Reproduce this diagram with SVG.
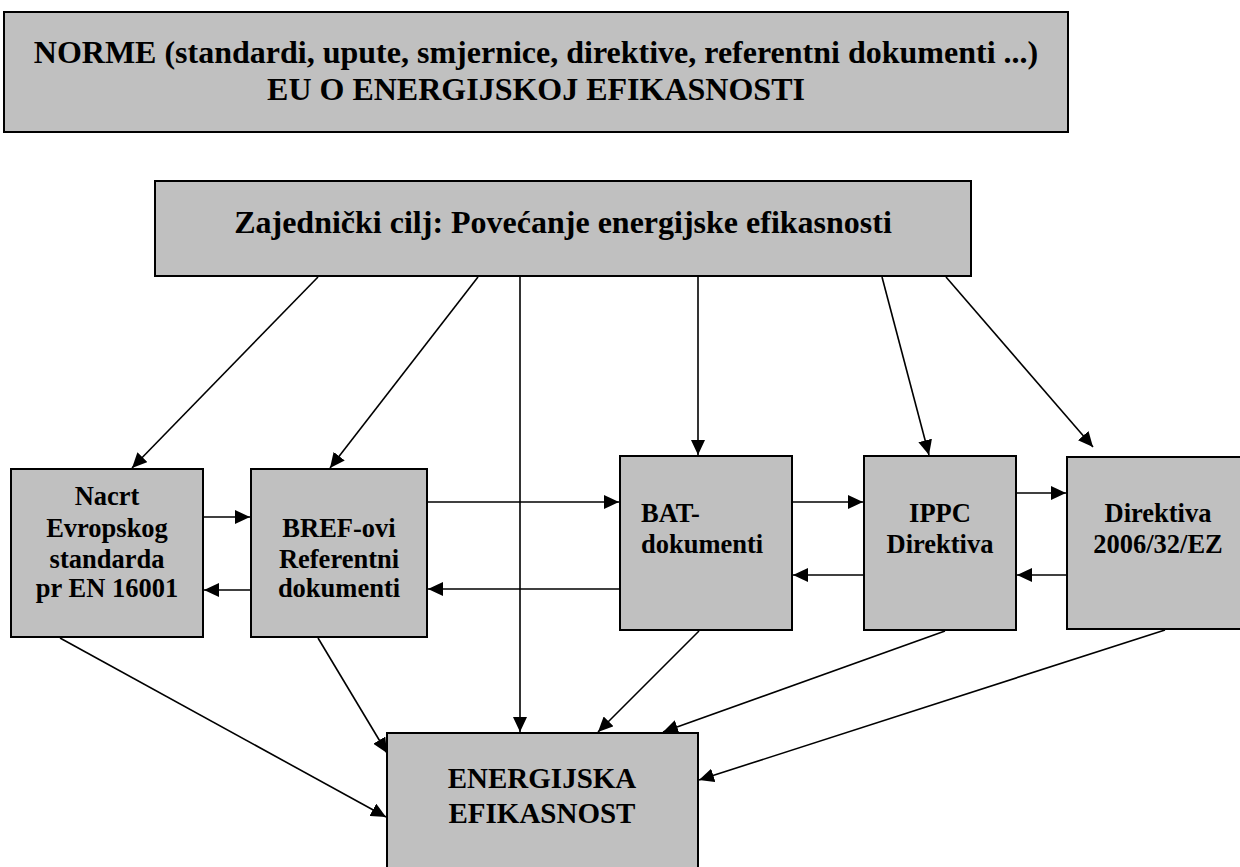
<svg xmlns="http://www.w3.org/2000/svg" width="1240" height="867" viewBox="0 0 1240 867">
<style>
.box{fill:#c0c0c0;stroke:#000;stroke-width:2}
.t{font-family:"Liberation Serif","Times New Roman",serif;font-weight:bold;fill:#000}
.big{font-size:32px}
.mid{font-size:26.5px}
.en{font-size:29px}
.c{text-anchor:middle}
.ln{stroke:#000;stroke-width:1.6;fill:none;marker-end:url(#ah)}
</style>
<defs>
<marker id="ah" markerUnits="userSpaceOnUse" markerWidth="16" markerHeight="14" refX="15" refY="7" orient="auto">
<path d="M0,0 L15,7 L0,14 z" fill="#000"/>
</marker>
</defs>
<rect width="1240" height="867" fill="#fff"/>
<g id="header">
<rect class="box" x="4" y="12" width="1064" height="120"/>
<text class="t big c" x="536" y="63">NORME (standardi, upute, smjernice, direktive, referentni dokumenti ...)</text>
<text class="t big c" x="536" y="100">EU O ENERGIJSKOJ EFIKASNOSTI</text>
</g>
<g id="cilj">
<rect class="box" x="155" y="181" width="816" height="95"/>
<text class="t big c" x="563" y="233">Zajednički cilj: Povećanje energijske efikasnosti</text>
</g>
<g id="nacrt">
<rect class="box" x="11" y="469" width="192" height="168"/>
<text class="t mid c" x="107" y="505">Nacrt</text>
<text class="t mid c" x="107" y="537">Evropskog</text>
<text class="t mid c" x="107" y="568">standarda</text>
<text class="t mid c" x="107" y="597">pr EN 16001</text>
</g>
<g id="bref">
<rect class="box" x="251" y="469" width="176" height="168"/>
<text class="t mid c" x="339" y="537">BREF-ovi</text>
<text class="t mid c" x="339" y="568">Referentni</text>
<text class="t mid c" x="339" y="597">dokumenti</text>
</g>
<g id="bat">
<rect class="box" x="620" y="456" width="172" height="174"/>
<text class="t mid" x="641" y="522">BAT-</text>
<text class="t mid" x="641" y="553">dokumenti</text>
</g>
<g id="ippc">
<rect class="box" x="864" y="456" width="152" height="174"/>
<text class="t mid c" x="940" y="522">IPPC</text>
<text class="t mid c" x="940" y="553">Direktiva</text>
</g>
<g id="direktiva">
<rect class="box" x="1067" y="457" width="182" height="172"/>
<text class="t mid c" x="1158" y="522">Direktiva</text>
<text class="t mid c" x="1158" y="553">2006/32/EZ</text>
</g>
<g id="energija">
<rect class="box" x="387" y="733" width="311" height="140"/>
<text class="t en c" x="542" y="788">ENERGIJSKA</text>
<text class="t en c" x="542" y="823">EFIKASNOST</text>
</g>
<g id="connectors">
<line class="ln" x1="318" y1="277" x2="132" y2="468"/>
<line class="ln" x1="478" y1="277" x2="330" y2="468"/>
<line class="ln" x1="520" y1="277" x2="520" y2="732"/>
<line class="ln" x1="698" y1="277" x2="698" y2="455"/>
<line class="ln" x1="882" y1="277" x2="929" y2="455"/>
<line class="ln" x1="946" y1="277" x2="1093" y2="447"/>
<line class="ln" x1="60" y1="638" x2="386" y2="817"/>
<line class="ln" x1="318" y1="638" x2="387" y2="753"/>
<line class="ln" x1="699" y1="631" x2="598" y2="732"/>
<line class="ln" x1="945" y1="631" x2="663" y2="732"/>
<line class="ln" x1="1165" y1="630" x2="699" y2="780"/>
<line class="ln" x1="204" y1="517" x2="250" y2="517"/>
<line class="ln" x1="250" y1="590" x2="204" y2="590"/>
<line class="ln" x1="428" y1="502" x2="619" y2="502"/>
<line class="ln" x1="619" y1="589" x2="428" y2="589"/>
<line class="ln" x1="793" y1="502" x2="863" y2="502"/>
<line class="ln" x1="863" y1="575" x2="793" y2="575"/>
<line class="ln" x1="1017" y1="493" x2="1066" y2="493"/>
<line class="ln" x1="1066" y1="575" x2="1017" y2="575"/>
</g>
</svg>
